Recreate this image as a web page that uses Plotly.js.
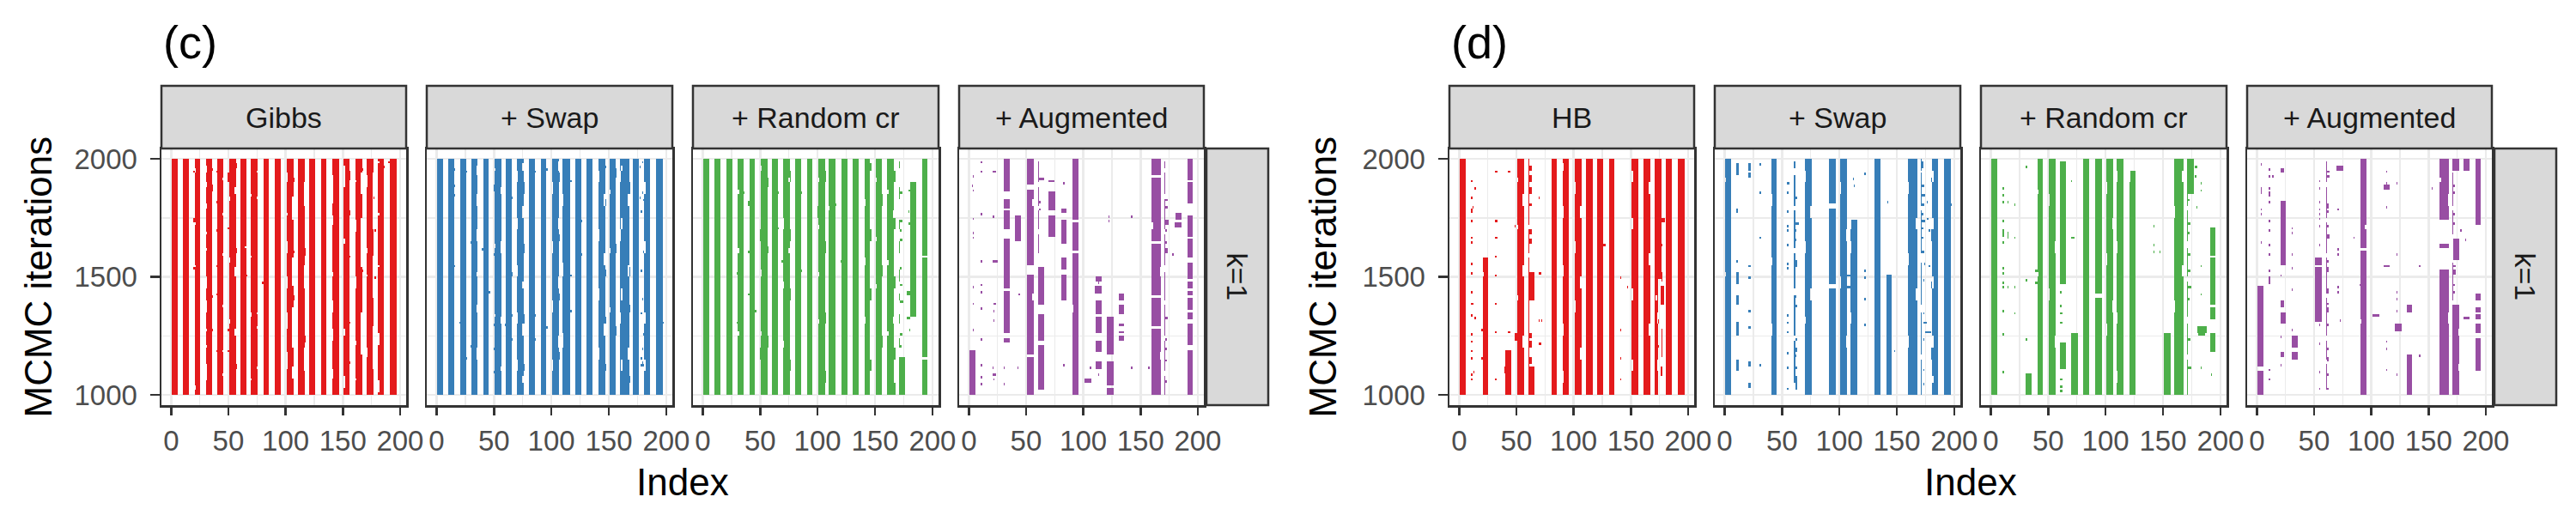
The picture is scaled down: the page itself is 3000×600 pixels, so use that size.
<!DOCTYPE html>
<html><head><meta charset="utf-8">
<script src="https://cdn.plot.ly/plotly-3.0.1.min.js"></script>
<style>html,body{margin:0;padding:0;background:#fff}</style>
</head><body><div id="chart" style="width:3000px;height:600px"></div>
<script>
// ---------------- data ----------------
const panelTitles = ['Gibbs','+ Swap','+ Random cr','+ Augmented','HB','+ Swap','+ Random cr','+ Augmented'];
const panelColors = ['#E41A1C','#377EB8','#4DAF4A','#984EA3','#E41A1C','#377EB8','#4DAF4A','#984EA3'];
const facetLabel = 'k=1';
const tagLabels = ['(c)','(d)'];
const xTitle = 'Index';
const yTitle = 'MCMC iterations';
const xTickVals = [0,50,100,150,200];
const yTickVals = [1000,1500,2000];
const nIndex = 200;            // variables on the x axis
const iterStart = 1000, iterEnd = 2000, iterStep = 10;  // thinned MCMC rows

// Each entry: [indexLo, indexHi, iterLo, iterHi] or [index, iterLo, iterHi]
const gibbsOn = [
 [1,5,1000,2000],[11,15,1000,2000],[21,25,1000,2000],[31,35,1000,2000],[41,45,1000,2000],[51,56,1000,2000],[61,65,1000,2000],[70,75,1000,2000],[81,85,1000,2000],[91,95,1000,2000],
 [101,106,1000,2000],[111,116,1000,2000],[121,125,1000,2000],[131,135,1000,2000],[141,146,1000,2000],[151,155,1000,2000],[161,166,1000,2000],[171,176,1000,2000],[181,185,1000,2000],[191,196,1000,2000],
 [20,1940,1950],[20,1730,1750],[20,1530,1540],[36,1950,1960],[36,1860,1890],[36,1410,1420],[36,1270,1280],
 [40,1940,1950],[40,1810,1820],[40,1690,1700],[40,1540,1550],[40,1420,1430],[40,1180,1190],
 [50,1900,1940],[50,1700,1710],[50,1270,1280],[50,1180,1190],[57,1960,1980],[57,1600,1620],[57,1110,1130],
 [66,1500,1510],[80,1470,1480],[107,1900,1920],[107,1600,1610],[107,1400,1420],[117,1590,1620],[117,1220,1250],
 [156,1910,1950],[156,1760,1780],[156,1580,1590],[156,1300,1310],[156,1130,1140],[167,1950,1960],[167,1520,1530],
 [177,1830,1840],[178,1690,1700],[178,1490,1500],[186,1960,1970],[190,1980,1990]
];
const gibbsOff = [
 [21,1940,1960],[21,1720,1730],[21,1540,1550],[21,1020,1040],
 [31,1940,1970],[31,1880,1900],[31,1790,1810],[31,1680,1690],[31,1610,1620],[31,1450,1500],[31,1350,1400],[31,1270,1280],[31,1200,1210],[31,1060,1130],
 [45,1910,1920],[45,1760,1770],[45,1590,1600],[45,1370,1380],[45,1180,1190],[45,1080,1090],
 [51,1820,1840],[51,1560,1580],[51,1300,1320],[56,1850,1880],[56,1500,1540],[56,1250,1280],[65,1620,1630],
 [70,1840,1850],[70,1580,1590],[70,1330,1350],[70,1060,1070],[75,1940,1950],[75,1830,1840],[75,1340,1350],[75,1280,1290],[75,1110,1120],
 [101,1900,1940],[101,1760,1770],[101,1600,1650],[101,1450,1500],[101,1280,1350],[101,1110,1180],
 [106,1740,1840],[106,1460,1580],[106,1200,1370],[106,1070,1120],[116,1800,1900],[116,1450,1550],[116,1100,1200],
 [141,1810,1930],[141,1720,1760],[141,1500,1520],[141,1350,1400],[141,1230,1280],[141,1070,1110],
 [151,1880,1970],[151,1640,1660],[151,1250,1280],[151,1030,1080],
 [161,1900,1910],[161,1690,1740],[161,1450,1500],[161,1210,1230],[161,1060,1070],[166,1850,1940],[166,1540,1750],[166,1170,1350],
 [171,1880,1930],[171,1600,1620],[171,1500,1510],[171,1160,1200],[176,1700,1940],[176,1410,1590],[176,1110,1290],
 [181,1980,1990],[181,1760,1770],[181,1540,1550],[181,1210,1260],[181,1010,1060]
];

const swapCOn = [
 [1,5,1000,2000],[11,15,1000,2000],[21,25,1000,2000],[31,35,1000,2000],[41,45,1000,2000],[51,56,1000,2000],[61,65,1000,2000],[70,75,1000,2000],[81,85,1000,2000],[91,95,1000,2000],
 [101,106,1000,2000],[110,116,1000,2000],[121,125,1000,2000],[131,135,1000,2000],[141,146,1000,2000],[151,155,1000,2000],[160,167,1000,2000],[171,175,1000,2000],[181,185,1000,2000],[191,196,1000,2000],
 [16,1950,1960],[16,1880,1890],[16,1840,1850],[16,1540,1550],[20,1300,1310],[26,1940,1950],[26,1150,1160],
 [30,1640,1650],[30,1200,1210],[40,1610,1620],[46,1430,1440],
 [50,1860,1890],[50,1590,1600],[50,1290,1300],[50,1190,1200],[50,1090,1100],[60,1290,1300],
 [66,1830,1840],[66,1500,1520],[66,1330,1340],[66,1230,1240],[76,1850,1900],[76,1600,1640],[76,1300,1340],[76,1100,1130],
 [86,1940,1950],[86,1330,1340],[86,1230,1240],[96,1950,1960],[96,1280,1290],
 [107,1900,1940],[107,1650,1680],[107,1400,1430],[107,1150,1180],[117,1900,1910],[117,1500,1510],[117,1350,1360],
 [126,1730,1740],[126,1590,1600],[147,1960,1970],[147,1800,1830],[147,1500,1530],[147,1300,1330],[147,1100,1130],
 [156,1920,1960],[156,1600,1640],[156,1250,1290],[168,1850,1900],[168,1500,1540],[168,1350,1380],[168,1050,1080],
 [177,1960,1970],[177,1830,1840],[178,1520,1530],[178,1340,1350],[178,1150,1160],[179,1130,1140],
 [179,1980,1990],[179,1850,1860],[178,1770,1780],[180,1820,1830],[180,1600,1610],[179,1400,1410],[180,1250,1260],[179,1190,1200],[178,181,1120,1130],
 [197,1300,1310]
];
const swapCOff = [
 [35,1930,1970],[35,1800,1850],[35,1650,1700],[35,1500,1520],[35,1350,1380],[35,1150,1200],
 [51,1950,1960],[51,1620,1640],[51,1330,1340],[56,1850,1880],[56,1600,1650],[56,1300,1330],[56,1100,1120],
 [70,1900,1950],[70,1700,1750],[70,1500,1550],[70,1300,1350],[70,1100,1150],[75,1950,1980],[75,1750,1800],[75,1450,1480],[75,1250,1300],[75,1050,1080],
 [101,1850,1900],[101,1600,1650],[101,1350,1400],[101,1100,1150],[106,1950,1990],[106,1700,1750],[106,1450,1500],[106,1200,1250],
 [110,1800,1850],[110,1500,1560],[110,1200,1260],
 [141,1900,1950],[141,1650,1700],[141,1400,1450],[141,1150,1200],[146,1800,1850],[146,1550,1600],[146,1250,1300],
 [151,1850,1870],[151,1600,1620],[151,1350,1370],
 [160,1900,1950],[160,1650,1700],[160,1300,1350],[161,1950,1970],[161,1700,1750],[161,1400,1450],[161,1100,1150],[167,1800,1850],[167,1500,1550],[167,1150,1200],
 [181,1850,1900],[181,1600,1650],[181,1300,1350],[181,1100,1150]
];

const randomCOn = [
 [1,5,1000,2000],[11,15,1000,2000],[21,25,1000,2000],[31,35,1000,2000],[41,45,1000,2000],[51,56,1000,2000],[61,65,1000,2000],[70,75,1000,2000],[81,85,1000,2000],[91,95,1000,2000],
 [101,106,1000,2000],[110,115,1000,2000],[121,125,1000,2000],[131,135,1000,2000],[141,145,1000,2000],[151,155,1000,2000],[161,166,1000,2000],
 [171,175,1000,1160],[181,185,1330,1900],
 [191,195,1590,2000],[191,195,1330,1580],[191,195,1160,1325],[191,195,1105,1150],[191,195,1000,1095],
 [171,1960,1990],[171,1830,1880],[171,1700,1740],[171,1600,1650],[171,1480,1530],[171,1400,1430],[171,1300,1340],[171,1200,1240],
 [172,173,1850,1860],[172,173,1730,1740],[172,1690,1700],[172,173,1650,1660],[172,1530,1540],[172,173,1460,1470],[172,174,1390,1400],[172,173,1250,1260],[172,1200,1210],
 [179,180,1860,1870],[179,1770,1780],[179,180,1720,1730],[178,180,1420,1440],[178,180,1320,1330],[180,1270,1280],
 [30,1510,1520],[30,1300,1310],[36,1850,1860],[40,1800,1820],[40,1600,1610],[40,1420,1430],[46,1350,1360],
 [50,1650,1700],[50,1150,1200],[57,1880,1920],[57,1600,1630],[57,1200,1250],[66,1850,1860],[66,1700,1710],[69,1560,1570],
 [76,1900,1950],[76,1650,1700],[76,1400,1450],[76,1100,1150],[86,1850,1860],[86,1520,1530],[100,1750,1800],
 [107,1900,1950],[107,1600,1650],[107,1300,1350],[107,1050,1100],[116,1800,1810],[120,1560,1570],
 [146,1950,1980],[146,1650,1700],[146,1400,1450],[146,1100,1150],[156,1800,1850],[156,1500,1550],[156,1200,1250],
 [167,1900,1950],[167,1700,1750],[167,1450,1500],[167,1150,1200],[167,1000,1050]
];
const randomCOff = [
 [31,1850,1870],[31,1600,1620],[31,1250,1270],[51,1950,1970],[51,1500,1530],[51,1250,1270],
 [70,1700,1750],[70,1450,1480],[70,1200,1230],[75,1900,1920],[75,1600,1620],
 [101,1900,1920],[101,1700,1720],[101,1500,1520],[101,1300,1320],[110,1780,1800],
 [141,1800,1830],[141,1550,1580],[141,1300,1330],[151,1900,1920],[151,1650,1670],[151,1450,1470],
 [161,1850,1870],[161,1550,1570],[161,1250,1270],[166,1750,1780],[166,1300,1330]
];

const augCOn = [
 [1,5,1000,1190],[4,1920,1930],[3,1880,1890],[4,1860,1870],[4,1740,1750],[4,1680,1690],[4,1660,1670],[4,1450,1460],[4,1380,1390],[4,1270,1280],
 [11,1980,1990],[11,1940,1950],[11,1760,1770],[11,1560,1570],[11,1460,1470],[11,1430,1440],[11,1360,1370],[11,1230,1240],[11,1120,1130],[11,1070,1080],[11,1040,1050],
 [21,23,1940,1950],[21,22,1750,1760],[21,25,1560,1570],[22,23,1380,1390],[22,1350,1360],[22,1310,1320],[21,23,1080,1090],[22,1060,1070],[21,1110,1120],
 [31,35,1860,2000],[31,35,1790,1830],[31,35,1700,1780],[31,35,1450,1660],[31,35,1260,1440],[31,35,1220,1240],[31,1110,1120],[31,1040,1050],
 [41,45,1650,1760],[44,1420,1430],[43,1110,1120],
 [51,56,1890,2000],[51,56,1550,1865],[51,56,1170,1510],[51,56,1000,1160],
 [61,1900,1990],[61,1800,1880],[61,1700,1780],[61,1600,1680],[62,65,1910,1920],[62,1810,1820],[62,1780,1790],
 [61,65,1380,1540],[61,65,1230,1340],[61,65,1020,1210],
 [70,74,1900,1910],[70,75,1780,1860],[70,75,1670,1760],
 [81,85,1775,1790],[81,85,1640,1740],[81,85,1530,1580],[81,85,1400,1510],[83,1890,1900],[83,1120,1130],
 [91,95,1745,2000],[91,95,1610,1730],[91,95,1000,1600],
 [101,106,1050,1070],[106,1110,1120],
 [111,115,1485,1495],[110,115,1435,1460],[111,115,1345,1400],[111,115,1265,1325],[111,115,1185,1230],[111,115,1115,1140],[113,1080,1090],[113,1470,1480],
 [121,126,1170,1325],[121,126,1045,1140],[121,126,1000,1030],[122,1750,1760],[122,1730,1740],
 [131,135,1405,1430],[131,135,1345,1375],[131,135,1290,1300],[131,135,1260,1270],[131,135,1235,1245],
 [142,1750,1760],[142,1110,1120],[157,1110,1120],
 [160,167,1930,2000],[160,167,1650,1920],[160,167,1420,1640],[160,167,1395,1410],[160,167,1290,1385],[160,167,1000,1280],
 [171,1960,1990],[171,1850,1940],[171,1700,1830],[171,1550,1680],[171,1400,1520],[171,1250,1380],[171,1100,1230],[171,1000,1080],
 [172,173,1820,1830],[172,173,1790,1800],[172,174,1720,1740],[172,1690,1700],[172,1640,1650],[172,173,1600,1620],[172,173,1320,1330],[172,1230,1240],[172,1190,1200],[172,1140,1150],[172,1050,1060],
 [178,1590,1600],[181,185,1740,1770],[180,185,1715,1725],
 [191,195,1910,2000],[191,195,1810,1895],[191,195,1675,1760],[191,195,1580,1655],[191,195,1495,1560],[191,195,1450,1480],[191,195,1425,1440],[191,195,1365,1410],[191,195,1325,1350],[191,195,1210,1300],[191,195,1000,1190]
];
const augCOff = [[56,1800,1830],[56,1400,1430],[160,1700,1730],[167,1500,1540],[167,1150,1180],[91,1350,1380]];

const hbOn = [
 [1,5,1000,2000],[21,25,1000,1575],[20,1270,1280],[20,1150,1160],[41,45,1000,1190],[40,1090,1120],[51,56,1000,2000],
 [61,1000,2000],[62,63,1950,1970],[62,63,1905,1925],[62,63,1855,1875],[62,63,1800,1810],[62,63,1680,1700],[62,63,1645,1660],[62,65,1400,1515],[62,63,1245,1260],[62,63,1205,1225],[62,63,1130,1155],[62,65,1000,1120],
 [81,85,1000,2000],[91,95,1000,2000],[101,106,1000,2000],[111,116,1000,2000],[121,125,1000,2000],[131,135,1000,2000],[151,156,1000,2000],[161,166,1000,2000],
 [171,176,1490,2000],[171,173,1000,1490],[181,185,1000,2000],[191,196,1000,2000],
 [11,1900,1910],[11,1830,1840],[11,1770,1790],[11,1730,1740],[11,1660,1670],[11,1640,1650],[11,1550,1560],[11,1510,1520],[11,1430,1440],[11,1380,1390],[11,1330,1340],[11,1250,1260],[11,1220,1230],[11,1180,1190],[11,1150,1160],[11,1080,1090],[11,1060,1070],
 [14,1870,1880],[12,1790,1800],[12,1380,1390],[14,1320,1330],[13,1090,1100],
 [32,33,1940,1950],[32,33,1730,1740],[32,33,1660,1670],[32,1580,1590],[32,1500,1510],[32,1380,1390],[32,1260,1270],[32,1060,1070],
 [43,44,1940,1950],[43,44,1260,1270],[49,1710,1720],[49,50,1230,1260],
 [70,1830,1840],[70,71,1510,1520],[70,1310,1320],[70,71,1210,1220],[72,1310,1320],
 [115,1630,1640],[126,127,1630,1640],[141,1490,1500],[141,1270,1280],[141,1150,1160],[141,1060,1070],[147,1450,1460],
 [177,179,1735,1745],[177,1630,1640],[177,1480,1520],[176,178,1380,1460],[177,1160,1280],[176,177,1080,1120],[174,1300,1320],[174,1200,1210]
];
const hbOff = [
 [21,1500,1520],[51,1900,1920],[51,1700,1720],[51,1400,1420],[56,1800,1850],[56,1500,1550],[56,1200,1250],
 [91,1950,1980],[91,1750,1800],[91,1500,1550],[91,1250,1300],[91,1050,1100],
 [101,1850,1900],[101,1600,1650],[101,1350,1400],[106,1750,1800],[106,1450,1500],[106,1150,1200],
 [151,1900,1950],[151,1700,1750],[151,1400,1450],[151,1100,1150],[166,1850,1900],[166,1550,1600],[166,1250,1300],
 [173,1300,1350],[173,1100,1150],[172,1400,1420],[61,1700,1720],[61,1580,1600]
];

const swapDOn = [
 [1,5,1000,2000],
 [11,12,1930,1980],[11,1770,1790],[11,1560,1570],[11,12,1470,1520],[11,12,1380,1420],[11,12,1250,1310],[11,12,1100,1150],
 [21,22,1950,1975],[21,22,1920,1940],[21,22,1540,1550],[21,22,1490,1500],[21,22,1350,1360],[21,22,1280,1290],[21,22,1125,1135],[21,22,1035,1045],
 [31,1970,1980],[31,1850,1860],[31,1660,1670],[31,1120,1130],
 [41,45,1000,2000],
 [55,56,1890,1900],[55,1850,1860],[55,1770,1780],[55,1710,1720],[55,1690,1700],[55,1630,1640],[55,1550,1560],[55,1530,1540],[55,1330,1340],[55,1300,1310],[55,1260,1270],[55,1170,1180],[55,1110,1120],[55,1020,1030],
 [61,1960,1990],[61,1800,1930],[61,1620,1780],[61,1450,1600],[61,1250,1420],[61,1050,1230],
 [62,63,1830,1840],[62,64,1720,1730],[62,1690,1700],[62,1650,1660],[62,63,1540,1570],[62,1410,1420],[62,63,1370,1380],[62,63,1230,1240],[62,63,1180,1200],[62,1160,1170],[62,63,1110,1120],[62,63,1020,1080],
 [70,75,1000,2000],
 [91,96,1810,2000],[91,96,1470,1790],[91,96,1065,1450],[91,96,1000,1055],
 [101,106,1000,2000],[110,115,1000,1735],[106,111,1500,1510],[107,110,1450,1460],
 [131,135,1000,2000],[141,145,1000,1510],[160,167,1000,2000],[171,1000,2000],[181,185,1000,2000],[191,196,1000,2000],
 [112,1910,1920],[113,1880,1890],[122,1930,1940],[122,1520,1530],[122,1490,1500],[122,1400,1410],[122,1290,1300],[142,1810,1820],[148,1180,1190],
 [172,1960,1990],[172,173,1880,1890],[172,174,1840,1850],[172,173,1800,1810],[172,1760,1770],[172,174,1730,1740],[172,1700,1710],[172,1660,1670],[172,173,1600,1610],
 [174,1550,1560],[173,1480,1490],[173,1340,1350],[178,1540,1550],[178,1690,1700],[176,1810,1820],[176,177,1740,1750],[175,179,1260,1270],[173,175,1300,1310],[173,1230,1240],[173,1100,1110],[173,1040,1050],
 [180,1900,1920],[180,1650,1700],[180,1450,1480],[180,1150,1200],[197,1800,1810],[195,1560,1570]
];
const swapDOff = [
 [1,1900,1920],[1,1500,1520],[41,1800,1850],[41,1550,1580],[41,1250,1300],[70,1900,1950],[70,1600,1650],[70,1300,1330],[75,1750,1800],[75,1400,1450],
 [101,1850,1900],[101,1450,1500],[106,1650,1700],[106,1200,1250],[110,1600,1650],[110,1300,1350],[110,1700,1735],
 [160,1850,1900],[160,1550,1600],[160,1200,1250],[167,1700,1750],[167,1400,1450],
 [171,1940,1950],[171,1780,1800],[171,1560,1600],[171,1350,1380],[171,1150,1170],
 [181,1900,1950],[181,1700,1750],[181,1450,1500],[181,1200,1250],[181,1050,1080]
];

const randomDOn = [
 [1,5,1000,2000],
 [11,1870,1880],[11,1840,1850],[11,1810,1820],[11,1730,1740],[11,1690,1700],[11,1670,1690],[11,1640,1650],[11,1530,1540],[11,1510,1520],[11,1470,1480],[11,1450,1460],[11,1350,1360],[11,1250,1260],[11,1090,1100],
 [15,1810,1820],[15,1660,1690],[15,1450,1460],[21,1800,1810],[21,1660,1670],[21,1450,1460],[21,1340,1350],
 [31,35,1000,1085],[31,1960,1970],[31,1480,1490],[31,1230,1240],[39,40,1520,1530],[39,40,1470,1480],
 [41,45,1000,2000],[51,56,1000,2000],
 [61,65,1470,1990],[61,65,1110,1215],[61,1430,1440],[61,1370,1380],[61,62,1340,1350],[61,62,1300,1310],[61,62,1060,1070],[61,62,1030,1040],[61,62,1010,1020],
 [70,75,1000,1255],[70,1900,1910],[70,72,1660,1670],
 [81,85,1000,2000],[91,96,1430,2000],[91,96,1000,1405],[101,106,1000,2000],[110,115,1000,2000],[121,125,1000,1950],
 [142,1710,1720],[142,1630,1640],[142,1600,1610],[147,1600,1610],
 [151,156,1000,1255],[160,167,1000,2000],[171,176,1855,2000],[171,1000,1850],
 [172,1820,1830],[172,173,1720,1730],[172,1680,1690],[172,173,1590,1600],[172,173,1520,1530],[172,174,1450,1460],[172,1400,1410],[172,173,1230,1240],[172,174,1110,1120],
 [178,179,1960,1970],[178,1920,1930],[179,1790,1800],[183,1890,1900],[183,1860,1870],[183,1540,1550],[183,1420,1430],[183,1110,1120],
 [180,187,1265,1285],[181,186,1255,1265],
 [191,195,1595,1705],[191,195,1385,1575],[191,195,1325,1365],[191,195,1225,1255],[191,195,1185,1215],[192,1080,1090]
];
const randomDOff = [
 [41,1850,1870],[41,1500,1520],[51,1800,1850],[51,1400,1450],[56,1600,1650],[56,1200,1250],
 [101,1850,1900],[101,1550,1600],[101,1250,1300],[106,1700,1750],[106,1350,1400],
 [110,1900,1950],[110,1600,1650],[110,1300,1350],[110,1050,1100],[121,1900,1950],
 [160,1750,1800],[160,1350,1400],[167,1900,1950],[167,1500,1550],
 [171,1780,1800],[171,1620,1650],[171,1480,1500],[171,1300,1330],[171,1150,1170]
];

const augDOn = [
 [1,5,1125,1455],[1,5,1060,1095],[1,5,1000,1055],[4,1970,1980],[4,1850,1880],[4,1780,1790],[4,1760,1770],[4,1640,1650],
 [11,1950,1960],[11,1920,1930],[11,1870,1880],[11,1840,1860],[11,1810,1820],[11,1730,1740],[11,1690,1700],[11,1630,1640],[11,1590,1600],[11,1520,1530],[11,1470,1500],[11,1100,1110],[11,1060,1070],[14,1920,1930],
 [21,25,1555,1815],[21,25,1305,1350],[21,23,1385,1395],[21,23,1370,1380],[21,23,1945,1955],[21,1500,1510],[21,1240,1250],[21,23,1165,1175],[21,1120,1130],
 [31,35,1205,1245],[31,35,1155,1175],[31,1700,1710],[31,1680,1690],[31,1590,1600],[31,1530,1540],[31,1440,1450],[31,1270,1280],
 [51,56,1555,1575],[51,56,1315,1540],
 [55,1900,1910],[55,1870,1880],[55,1810,1820],[55,1780,1790],[55,1760,1770],[55,1740,1750],[55,1710,1720],[55,1630,1640],[55,1320,1330],[55,1290,1300],[55,1210,1220],[55,1090,1100],[55,1020,1030],
 [61,1900,1990],[61,1750,1880],[61,1600,1730],[61,1430,1580],[61,1250,1410],[61,1150,1230],[61,1020,1130],
 [62,63,1940,1950],[62,63,1920,1930],[62,1790,1805],[62,1770,1780],[62,1710,1720],[62,63,1660,1680],[62,1560,1570],[62,1520,1535],[62,1430,1450],[62,1385,1390],[62,1350,1370],[62,1290,1300],[62,1190,1200],[62,1140,1160],[62,1080,1090],[62,1020,1030],
 [70,75,1955,1970],[71,1780,1790],[71,1610,1620],[71,1590,1600],[71,1450,1460],[71,1430,1440],[73,1310,1320],[85,1660,1670],[90,1460,1470],
 [91,95,1620,2000],[91,95,1000,1605],[101,106,1330,1340],
 [111,115,1870,1885],[111,115,1540,1550],[113,1940,1950],[113,1890,1900],[113,1790,1800],[113,1220,1230],[113,1190,1200],[113,1100,1110],
 [121,126,1275,1300],[122,1890,1900],[122,1590,1600],[122,1430,1440],[122,1400,1410],[122,1350,1360],[122,1080,1090],
 [131,135,1355,1375],[131,135,1108,1170],[131,135,1055,1095],[131,135,1000,1045],
 [142,1540,1550],[142,1160,1170],[153,1870,1880],
 [160,167,1745,2000],[160,167,1625,1632],[160,167,1000,1523],
 [171,176,1950,2000],[171,1800,1940],[171,1680,1780],[171,1400,1560],[171,1000,1380],
 [172,176,1575,1660],[172,173,1540,1550],[172,173,1510,1525],[172,176,1000,1380],
 [172,1880,1890],[172,1850,1860],[172,1760,1770],[172,1720,1730],[172,1460,1470],[172,1430,1440],
 [178,1690,1700],[182,1650,1660],[181,185,1950,2000],[181,185,1320,1330],
 [191,195,1720,2000],[191,195,1400,1425],[191,195,1350,1370],[191,195,1320,1335],[191,195,1265,1298],[191,195,1100,1240]
];
const augDOff = [[160,1900,1920],[167,1300,1350],[167,1800,1850],[91,1300,1320],[95,1700,1720],[176,1100,1130],[176,1250,1280]];

const panelOn  = [gibbsOn, swapCOn, randomCOn, augCOn, hbOn, swapDOn, randomDOn, augDOn];
const panelOff = [gibbsOff, swapCOff, randomCOff, augCOff, hbOff, swapDOff, randomDOff, augDOff];

// ---------------- layout geometry (pixels of a 3000x600 page) ----------------
const W = 3000, H = 600;
const panelPx = [[188,473],[497,783],[807,1093],[1117,1402],[1688,1973],[1997,2283],[2307,2593],[2617,2902]];
const plotTop = 173, plotBot = 472, stripTop = 100;
const rightStripPx = [[1405,1477],[2905,2977]];
const FONT = 'Liberation Sans, Arial, Helvetica, sans-serif';

// ---------------- build raster grids ----------------
const xIdx = []; for (let i = 1; i <= nIndex; i++) xIdx.push(i);
const yRows = []; for (let t = iterStart; t < iterEnd; t += iterStep) yRows.push(t + iterStep / 2);
const nRows = yRows.length;

function paint(z, list, val) {
  list.forEach(e => {
    const [a, b, lo, hi] = e.length === 3 ? [e[0], e[0], e[1], e[2]] : e;
    let r0 = Math.max(0, Math.floor((lo - iterStart) / iterStep));
    let r1 = Math.min(nRows - 1, Math.max(r0, Math.ceil((hi - iterStart) / iterStep) - 1));
    for (let r = r0; r <= r1; r++) for (let i = a; i <= b; i++) z[r][i - 1] = val;
  });
}
function grid(on, off) {
  const z = yRows.map(() => new Array(nIndex).fill(null));
  paint(z, on, 1); paint(z, off, null);
  return z;
}

const traces = [];
const layout = {
  width: W, height: H, margin: {l: 0, r: 0, t: 0, b: 0},
  paper_bgcolor: '#ffffff', plot_bgcolor: '#ffffff', showlegend: false,
  shapes: [], annotations: []
};
const yDom = [1 - plotBot / H, 1 - plotTop / H];

panelPx.forEach((px, n) => {
  const k = n + 1;
  const xa = 'x' + (k === 1 ? '' : k), ya = 'y' + (k === 1 ? '' : k);
  traces.push({
    type: 'heatmap', x: xIdx, y: yRows, z: grid(panelOn[n], panelOff[n]),
    colorscale: [[0, panelColors[n]], [1, panelColors[n]]], zmin: 0, zmax: 1,
    showscale: false, hoverinfo: 'skip', xaxis: xa, yaxis: ya, zsmooth: false
  });
  const common = {
    showline: true, mirror: true, linecolor: '#333333', linewidth: 2.5,
    ticks: 'outside', tickcolor: '#333333', tickwidth: 2.5, zeroline: false,
    showgrid: true, gridcolor: '#EBEBEB', gridwidth: 2.6,
    tickfont: {family: FONT, size: 33, color: '#4D4D4D'}, fixedrange: true
  };
  layout['xaxis' + (k === 1 ? '' : k)] = Object.assign({}, common, {
    domain: [px[0] / W, px[1] / W], range: [-8.5, 205.3], anchor: ya,
    tickmode: 'array', tickvals: xTickVals, ticktext: xTickVals.map(String), ticklen: 9,
    minor: {tickmode: 'array', tickvals: [25, 75, 125, 175], showgrid: true, gridcolor: '#EBEBEB', gridwidth: 1.5, ticks: ''},
    ticklabelstandoff: 2
  });
  const showY = (n === 0 || n === 4);
  layout['yaxis' + (k === 1 ? '' : k)] = Object.assign({}, common, {
    domain: yDom, range: [956.4, 2043.6], anchor: xa,
    tickmode: 'array', tickvals: yTickVals, ticktext: yTickVals.map(String),
    ticks: showY ? 'outside' : '', ticklen: 11, showticklabels: showY,
    minor: {tickmode: 'array', tickvals: [1250, 1750], showgrid: true, gridcolor: '#EBEBEB', gridwidth: 1.5, ticks: ''},
    ticklabelstandoff: 8
  });
  // facet strip on top
  layout.shapes.push({type: 'rect', xref: 'paper', yref: 'paper',
    x0: px[0] / W, x1: px[1] / W, y0: 1 - plotTop / H, y1: 1 - stripTop / H,
    fillcolor: '#D9D9D9', line: {color: '#333333', width: 2.5}, layer: 'above'});
  layout.annotations.push({xref: 'paper', yref: 'paper', showarrow: false,
    x: (px[0] + px[1]) / 2 / W, y: 1 - (plotTop + stripTop) / 2 / H, xanchor: 'center', yanchor: 'middle',
    text: panelTitles[n], font: {family: FONT, size: 34, color: '#1A1A1A'}});
});

rightStripPx.forEach((px, g) => {
  layout.shapes.push({type: 'rect', xref: 'paper', yref: 'paper',
    x0: px[0] / W, x1: px[1] / W, y0: yDom[0], y1: yDom[1],
    fillcolor: '#D9D9D9', line: {color: '#333333', width: 2.5}, layer: 'above'});
  layout.annotations.push({xref: 'paper', yref: 'paper', showarrow: false, textangle: 90,
    x: (px[0] + px[1]) / 2 / W, y: (yDom[0] + yDom[1]) / 2, xanchor: 'center', yanchor: 'middle',
    text: facetLabel, font: {family: FONT, size: 34, color: '#1A1A1A'}});
  const left = panelPx[g * 4][0], right = panelPx[g * 4 + 3][1];
  // axis titles
  layout.annotations.push({xref: 'paper', yref: 'paper', showarrow: false,
    x: (left + right) / 2 / W, y: 1 - 561 / H, xanchor: 'center', yanchor: 'middle',
    text: xTitle, font: {family: FONT, size: 44, color: '#000000'}});
  layout.annotations.push({xref: 'paper', yref: 'paper', showarrow: false, textangle: -90,
    x: (g === 0 ? 44 : 1540) / W, y: (yDom[0] + yDom[1]) / 2, xanchor: 'center', yanchor: 'middle',
    text: yTitle, font: {family: FONT, size: 44, color: '#000000'}});
  // panel tag
  layout.annotations.push({xref: 'paper', yref: 'paper', showarrow: false,
    x: left / W, y: 1 - 49 / H, xanchor: 'left', yanchor: 'middle',
    text: tagLabels[g], font: {family: FONT, size: 54, color: '#000000'}});
});

Plotly.newPlot('chart', traces, layout, {staticPlot: true, displayModeBar: false});
</script></body></html>
